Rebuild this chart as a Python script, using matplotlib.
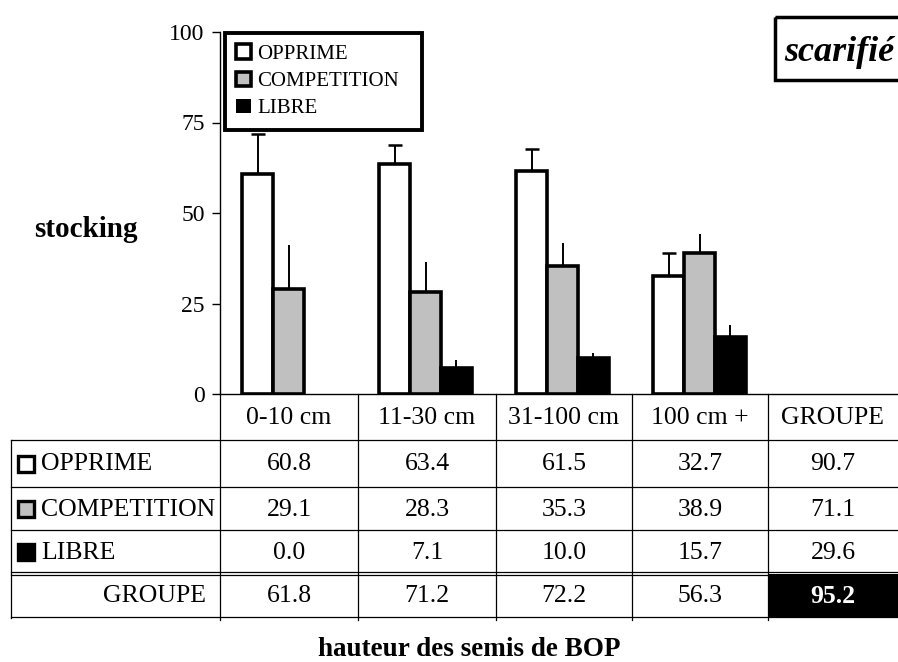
import matplotlib
matplotlib.use("Agg")
import matplotlib.pyplot as plt
from matplotlib.patches import Rectangle
import numpy as np

# ---------------- data ----------------
categories = ["0-10 cm", "11-30 cm", "31-100 cm", "100 cm +"]
total_label = "GROUPE"
series_names = ["OPPRIME", "COMPETITION", "LIBRE"]
opprime = [60.8, 63.4, 61.5, 32.7]
competition = [29.1, 28.3, 35.3, 38.9]
libre = [0.0, 7.1, 10.0, 15.7]
opprime_err = [11.0, 5.4, 6.2, 6.3]
competition_err = [12.0, 8.2, 6.5, 5.3]
libre_err = [0.0, 2.3, 1.4, 3.4]
groupe_row = [61.8, 71.2, 72.2, 56.3]
groupe_col = [90.7, 71.1, 29.6]
groupe_total = 95.2
yticks = [0, 25, 50, 75, 100]
title = "scarifié"
ylabel = "stocking"
xlabel = "hauteur des semis de BOP"

# ---------------- style ----------------
plt.rcParams['font.family'] = ['Liberation Serif', 'DejaVu Serif']
colors = ["white", "#c0c0c0", "black"]
W, H = 898, 662
fig = plt.figure(figsize=(W / 100, H / 100), dpi=100)

# main axes (pixel layout: x 220 -> 905, y 394 (0) -> 32 (100))
ax = fig.add_axes([220 / W, 1 - 394 / H, 685 / W, 362 / H])
ncat = len(categories) + 1
ax.set_xlim(0, ncat)
ax.set_ylim(0, 100)
bw = 0.226
series = [opprime, competition, libre]
errors = [opprime_err, competition_err, libre_err]
bars = []
for k, (vals, errs, col) in enumerate(zip(series, errors, colors)):
    x = np.arange(len(categories)) + 0.5 + (k - 1) * bw
    lws = [2.6 if v > 0 else 0 for v in vals]
    b = ax.bar(x, vals, width=bw, color=col, edgecolor="black",
               linewidth=lws, zorder=3)
    bars.append(b)
    ax.errorbar(x, vals, yerr=[np.zeros(len(vals)), errs], fmt="none",
                ecolor="black", elinewidth=1.4,
                capsize=5 if k == 0 else 0, capthick=1.8, zorder=2)

for s in ["top", "right"]:
    ax.spines[s].set_visible(False)
ax.spines["left"].set_linewidth(1.0)
ax.spines["bottom"].set_linewidth(1.0)
ax.set_xticks([])
ax.set_yticks(yticks)
ax.tick_params(axis="y", direction="out", length=6, width=1, pad=5,
               labelsize=17)

leg = ax.legend(bars, series_names, loc="upper left",
                bbox_to_anchor=(225 / W, 1 - 130 / H, 197 / W, 97 / H),
                bbox_transform=fig.transFigure, mode="expand",
                borderaxespad=0, fontsize=15, fancybox=False, framealpha=1,
                edgecolor="black", handlelength=0.7, handleheight=0.7,
                handletextpad=0.3, labelspacing=0.36, borderpad=0.55)
leg.get_frame().set_linewidth(2.8)

# ---------------- overlay in pixel coordinates ----------------
ov = fig.add_axes([0, 0, 1, 1], facecolor="none")
ov.set_xlim(0, W)
ov.set_ylim(H, 0)
ov.axis("off")

# title box
ov.add_patch(Rectangle((775, 17), 140, 63, fill=False, lw=2.5,
                       edgecolor="black", clip_on=False))
ov.text(784, 61, title, fontsize=26, fontweight="bold", fontstyle="italic",
        ha="left", va="baseline")

ov.text(86, 237, ylabel, fontsize=21, fontweight="bold", ha="center",
        va="baseline")
ov.text(469, 656, xlabel, fontsize=19.5, fontweight="bold", ha="center",
        va="baseline")

# table geometry
col_x = [220, 358, 496, 632, 768, 898]
row_y = [394, 440, 487, 530, 573.5, 617]
lk = dict(color="black", lw=0.9)
for xv in col_x[:-1]:
    ov.plot([xv, xv], [394, 620], **lk)
ov.plot([11, 11], [440, 618], **lk)
for yv in [440, 487, 530, 572, 575, 617]:
    ov.plot([11, 898], [yv, yv], **lk)

fs = 18.5
centers = [(col_x[i] + col_x[i + 1]) / 2 for i in range(5)]
ycen = [(row_y[i] + row_y[i + 1]) / 2 + 1 for i in range(5)]
for c, lab in zip(centers, categories + [total_label]):
    ov.text(c, ycen[0], lab, fontsize=fs, ha="center", va="center")

for r, (name, vals, col) in enumerate(zip(series_names, series, colors)):
    yc = ycen[r + 1]
    ov.add_patch(Rectangle((17.5, yc - 8.5), 16, 16, facecolor=col,
                           edgecolor="black", lw=2.4))
    ov.text(41, yc, name, fontsize=fs, ha="left", va="center")
    for c, v in zip(centers[:4], vals):
        ov.text(c, yc, f"{v:.1f}", fontsize=fs, ha="center", va="center")
    ov.text(centers[4], yc, f"{groupe_col[r]:.1f}", fontsize=fs,
            ha="center", va="center")

yc = ycen[4]
ov.text(206, yc, total_label, fontsize=fs, ha="right", va="center")
for c, v in zip(centers[:4], groupe_row):
    ov.text(c, yc, f"{v:.1f}", fontsize=fs, ha="center", va="center")
ov.add_patch(Rectangle((768, 573.5), 130, 43.5, facecolor="black",
                       edgecolor="black", lw=0))
ov.text(centers[4], yc, f"{groupe_total:.1f}", fontsize=fs,
        fontweight="bold", color="white", ha="center", va="center")

fig.savefig("out.png", dpi=100)
